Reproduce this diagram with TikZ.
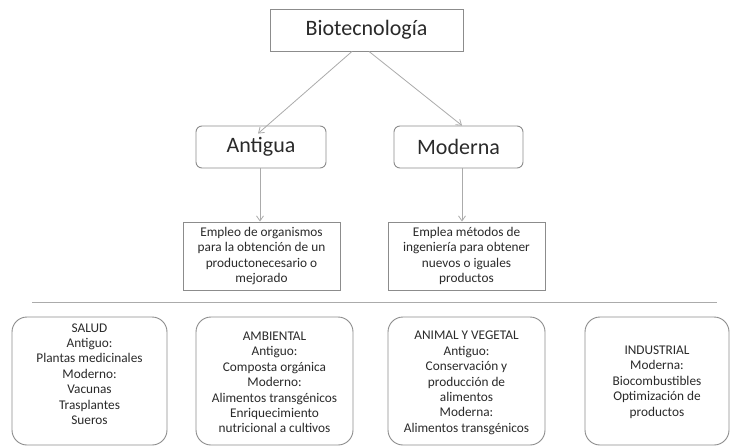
\documentclass[tikz,border=0pt]{standalone}
\usepackage{fontspec}
\setmainfont{Carlito}
\usetikzlibrary{arrows.meta}
\definecolor{boxline}{HTML}{8C8C8C}
\definecolor{arrline}{HTML}{ABABAB}
\definecolor{txt}{HTML}{2A2A2A}
\tikzset{
  titlebox/.style={draw=boxline, line width=0.9pt, minimum width=193pt, minimum height=42pt, inner sep=0pt, text=txt, font=\fontsize{22}{26}\selectfont},
  midbox/.style={draw=boxline, line width=0.9pt, rounded corners=6pt, minimum width=130pt, minimum height=42pt, inner sep=0pt, text=txt, font=\fontsize{22}{26}\selectfont},
  descbox/.style={draw=boxline, line width=0.9pt, minimum width=157pt, minimum height=68pt, inner sep=0pt, text=txt, align=center, font=\fontsize{13.3}{15.2}\selectfont},
  areabox/.style={draw=boxline, line width=0.9pt, rounded corners=15pt, minimum height=128pt, inner sep=0pt},
  areatxt/.style={text=txt, align=center, inner sep=0pt, font=\fontsize{13.3}{15.4}\selectfont},
  arr/.style={draw=arrline, line width=0.8pt, -{Straight Barb[length=5pt,width=7pt]}},
}
\begin{document}
\begin{tikzpicture}[x=1pt,y=-1pt]
\useasboundingbox (0,0) rectangle (731,447);
\fill[white] (0,0) rectangle (731,447);

\node[titlebox] (bio) at (366.5,30) {Biotecnología};
\node[midbox] (ant) at (261,147) {Antigua};
\node[midbox, minimum width=129pt] (mod) at (458.5,147) {Moderna};
\node[descbox] (emp1) at (261.5,256) {Empleo de organismos\\para la obtención de un\\productonecesario o\\mejorado};
\node[descbox] (emp2) at (466.5,256) {Emplea métodos de\\ingeniería para obtener\\nuevos o iguales\\productos};

\coordinate (lnA) at (32,302);
\coordinate (lnB) at (717,302);
\draw[draw=arrline, line width=1pt] (lnA) -- (lnB);

\node[areabox, minimum width=155pt] (b1) at (89.5,381) {};
\node[areabox, minimum width=157pt] (b2) at (274.5,381) {};
\node[areabox, minimum width=157pt] (b3) at (466.5,381) {};
\node[areabox, minimum width=144pt] (b4) at (657,381) {};

\node[areatxt] (t1) at ([yshift=7pt]b1.center) {SALUD\\Antiguo:\\Plantas medicinales\\Moderno:\\Vacunas\\Trasplantes\\Sueros};
\node[areatxt] (t2) at ([yshift=-1.5pt]b2.center) {AMBIENTAL\\Antiguo:\\Composta orgánica\\Moderno:\\Alimentos transgénicos\\Enriquecimiento\\nutricional a cultivos};
\node[areatxt] (t3) at ([yshift=-2pt]b3.center) {ANIMAL Y VEGETAL\\Antiguo:\\Conservación  y\\producción de\\alimentos\\Moderna:\\Alimentos transgénicos};
\node[areatxt] (t4) at ([yshift=-1pt]b4.center) {INDUSTRIAL\\Moderna:\\Biocombustibles\\Optimización de\\productos};

\draw[arr] ([xshift=-14.5pt]bio.south) -- ([xshift=-3pt,yshift=-8pt]ant.north);
\draw[arr] ([xshift=2.5pt]bio.south) -- ([xshift=3.5pt]mod.north);
\draw[arr] ([xshift=-1pt]ant.south) -- ([xshift=-1.5pt]emp1.north);
\draw[arr] ([xshift=3.5pt]mod.south) -- ([xshift=-4.5pt]emp2.north);
\end{tikzpicture}
\end{document}
